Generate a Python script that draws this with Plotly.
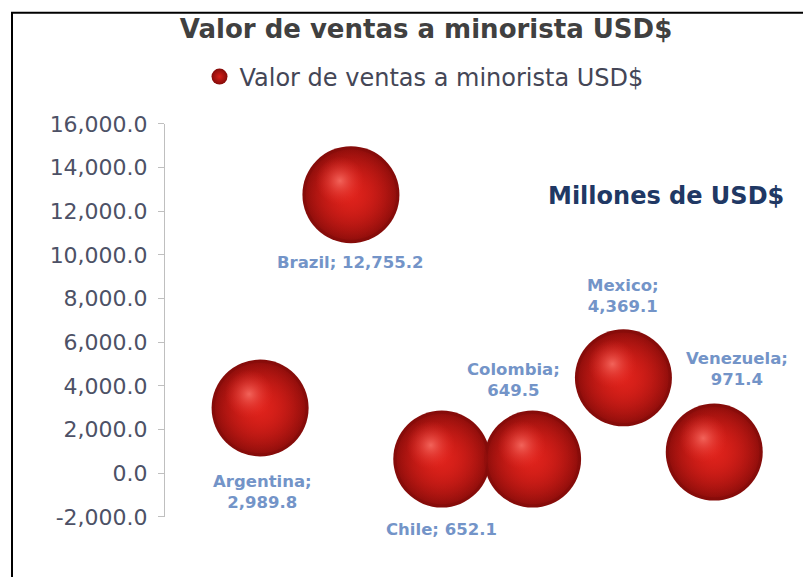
import plotly.graph_objects as go

# Retail sales value by country (millions of USD)
countries = ["Argentina", "Brazil", "Chile", "Colombia", "Mexico", "Venezuela"]
ventas = [2989.8, 12755.2, 652.1, 649.5, 4369.1, 971.4]
posicion = [1, 2, 3, 4, 5, 6]
y_ticks = [-2000, 0, 2000, 4000, 6000, 8000, 10000, 12000, 14000, 16000]
y_tick_labels = [f"{v:,.1f}" for v in y_ticks]
series_name = "Valor de ventas a minorista USD$"

# Canvas and plot-area geometry
W, H = 803, 577
L, R, T, B = 165, 12, 120, 60
X_RANGE = [-0.047, 6.845]
Y_RANGE = [-2000, 16000]
plot_w = W - L - R
plot_h = H - T - B
x_per_px = (X_RANGE[1] - X_RANGE[0]) / plot_w
y_per_px = (Y_RANGE[1] - Y_RANGE[0]) / plot_h


def px_to_paper(px, py):
    """Pixel position on the canvas -> paper coordinates of the plot area."""
    return (px - L) / plot_w, (H - B - py) / plot_h


FONT = "DejaVu Sans"
BUBBLE = 97

fig = go.Figure()

# Sphere body: red centre darkening toward the rim
# (for radial gradients, gradient.color is the centre colour)
fig.add_trace(go.Scatter(
    x=posicion, y=ventas, mode="markers", name=series_name,
    marker=dict(size=BUBBLE, color="#840b09",
                gradient=dict(type="radial", color="#d61e18"),
                line=dict(width=0)),
    hoverinfo="skip", showlegend=True,
))
# Bright core that fades out before the edge, keeping the rim soft
fig.add_trace(go.Scatter(
    x=posicion, y=ventas, mode="markers",
    marker=dict(size=BUBBLE * 0.93, color="rgba(214,30,24,0.12)",
                gradient=dict(type="radial", color="#df231c"),
                line=dict(width=0)),
    hoverinfo="skip", showlegend=False,
))
# Specular highlight, up and to the left of each centre
hx = [p - 11 * x_per_px for p in posicion]
hy = [v + 14 * y_per_px for v in ventas]
fig.add_trace(go.Scatter(
    x=hx, y=hy, mode="markers",
    marker=dict(size=BUBBLE * 0.5, color="rgba(228,44,38,0)",
                gradient=dict(type="radial", color="rgba(248,112,102,0.85)"),
                line=dict(width=0)),
    hoverinfo="skip", showlegend=False,
))

# Data labels: (xshift, yshift, two lines)
label_pos = {
    "Argentina": (2, -84, True),
    "Brazil": (0, -68, False),
    "Chile": (0, -70, False),
    "Colombia": (-19, 79, True),
    "Mexico": (0, 82, True),
    "Venezuela": (23, 83, True),
}
for name, x, v in zip(countries, posicion, ventas):
    dx, dy, two = label_pos[name]
    sep = "<br>" if two else " "
    fig.add_annotation(
        x=x, y=v, xref="x", yref="y", text=f"{name};{sep}{v:,.1f}",
        showarrow=False, xshift=dx, yshift=dy, xanchor="center", yanchor="middle",
        align="center", font=dict(family=FONT, size=16.5, color="#7394c8", weight="bold"),
    )

mx, my = px_to_paper(666, 193)
fig.add_annotation(
    x=mx, y=my, xref="paper", yref="paper", text="<b>Millones de USD$</b>",
    showarrow=False, xanchor="center", yanchor="middle",
    font=dict(family=FONT, size=24, color="#203864"),
)

# Chart border (left and top edges visible)
bx0, by0 = px_to_paper(12, H + 20)
bx1, by1 = px_to_paper(W + 20, 8)
fig.add_shape(
    type="rect", xref="paper", yref="paper", x0=bx0, x1=bx1, y0=by0, y1=by1,
    line=dict(color="black", width=2), fillcolor="rgba(0,0,0,0)", layer="above",
)

fig.update_layout(
    width=W, height=H, autosize=False,
    margin=dict(l=L, r=R, t=T, b=B, pad=0),
    paper_bgcolor="white", plot_bgcolor="white",
    font=dict(family=FONT),
    title=dict(text="<b>" + series_name + "</b>", x=426 / W, xanchor="center",
               y=1 - 29 / H, yanchor="middle", xref="container", yref="container",
               font=dict(family=FONT, size=26, color="#404040")),
    legend=dict(orientation="h", xref="container", yref="container",
                x=424 / W, xanchor="center", y=1 - 77 / H, yanchor="middle",
                font=dict(family=FONT, size=24, color="#444656"),
                itemsizing="trace", bgcolor="rgba(0,0,0,0)"),
    xaxis=dict(range=X_RANGE, visible=False, showgrid=False, zeroline=False),
    yaxis=dict(range=Y_RANGE, tickvals=y_ticks, ticktext=y_tick_labels,
               showgrid=False, zeroline=False, showline=True, linecolor="#bfbfbf",
               linewidth=1, ticks="outside", ticklen=6, tickcolor="#bfbfbf",
               ticklabelstandoff=6,
               tickfont=dict(family=FONT, size=22, color="#4d5166")),
)

fig.write_html("out.html")
